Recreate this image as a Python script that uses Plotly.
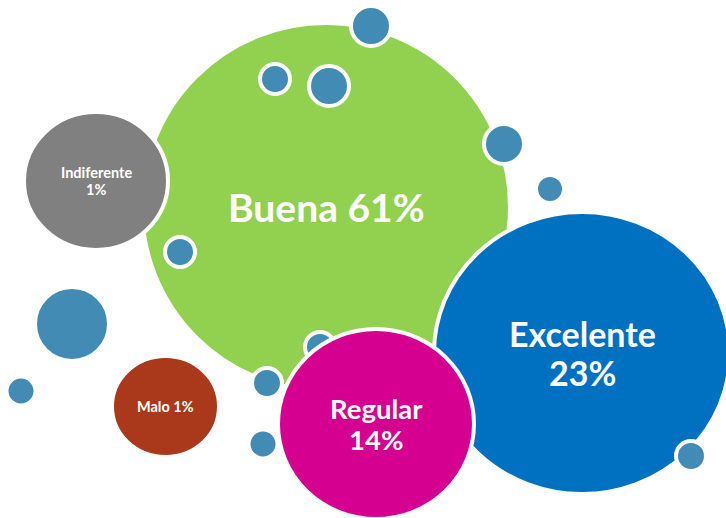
import plotly.graph_objects as go

# Main categories (bubble centers / radii in chart units, y grows downward)
categories = ["Buena", "Indiferente", "Excelente", "Regular", "Malo"]
percent = [61, 1, 23, 14, 1]
cat_x = [326, 96, 582, 376, 165.5]
cat_y = [207, 181, 353, 424, 406.5]
cat_rx = [182, 70, 146, 96, 51.5]
cat_ry = [182, 67, 139, 93, 48.5]
cat_colors = ["#92D050", "#808080", "#0070C0", "#D5008F", "#A9391A"]
cat_labels = ["Buena 61%", "Indiferente<br>1%", "Excelente<br>23%", "Regular<br>14%", "Malo 1%"]
label_sizes = [39, 14.5, 34, 27.5, 14.5]

# Decorative small bubbles
dot_x = [371, 275, 329, 504, 550, 180, 72, 21, 267, 263, 320, 691]
dot_y = [26, 79, 86, 144, 189, 252, 324, 391, 383, 444, 347, 456]
dot_r = [18, 13, 18, 18, 12, 13, 35, 12.5, 13, 12.5, 13, 13]
dot_color = "#428BB5"

BORDER = 4

def ellipse(x, y, rx, ry, color):
    pad = BORDER / 2
    return dict(type="circle", xref="x", yref="y", layer="below",
                x0=x - rx - pad, x1=x + rx + pad, y0=y - ry - pad, y1=y + ry + pad,
                fillcolor=color, line=dict(color="white", width=BORDER))

def cat_shape(i):
    return ellipse(cat_x[i], cat_y[i], cat_rx[i], cat_ry[i], cat_colors[i])

def dot_shape(j):
    return ellipse(dot_x[j], dot_y[j], dot_r[j], dot_r[j], dot_color)

shapes = [cat_shape(0), cat_shape(1)]
shapes += [dot_shape(j) for j in range(0, 11)]
shapes += [cat_shape(2), dot_shape(11), cat_shape(3), cat_shape(4)]

annotations = []
for i in range(len(categories)):
    lines = cat_labels[i].split("<br>")
    n = len(lines)
    size = label_sizes[i]
    gap = 1.15 * size
    for k, line in enumerate(lines):
        annotations.append(dict(
            x=cat_x[i], y=cat_y[i], xref="x", yref="y", text=line, showarrow=False,
            xanchor="center", yanchor="middle",
            yshift=-((k - (n - 1) / 2) * gap),
            font=dict(family="Lato", size=size, color="white", weight="bold"),
        ))

fig = go.Figure()
fig.update_layout(
    width=726, height=518, margin=dict(l=0, r=0, t=0, b=0),
    paper_bgcolor="white", plot_bgcolor="white",
    xaxis=dict(range=[0, 726], visible=False, fixedrange=True),
    yaxis=dict(range=[518, 0], visible=False, fixedrange=True),
    shapes=shapes, annotations=annotations, showlegend=False,
)

fig.write_html("out.html", config={"displayModeBar": False},
               post_script="document.body.style.margin='0';document.body.style.overflow='hidden';")
